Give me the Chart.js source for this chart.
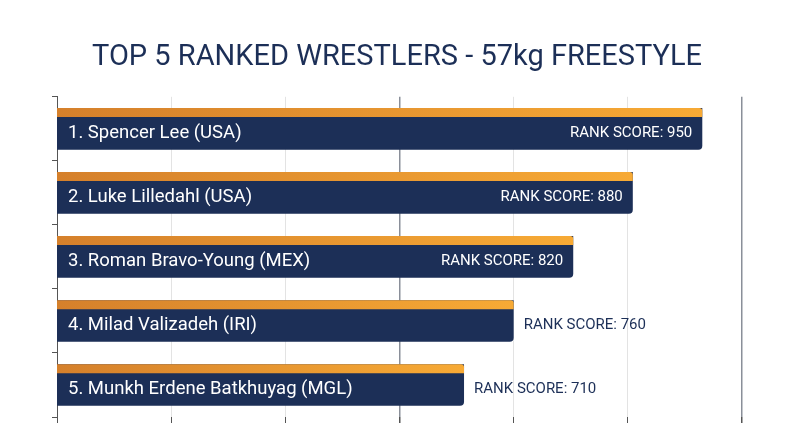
<!DOCTYPE html>
<html><head><meta charset="utf-8">
<script src="https://cdn.jsdelivr.net/npm/chart.js@4"></script>
<style>html,body{margin:0;padding:0;background:#fff}#w{width:800px;height:447px}</style>
</head><body><div id="w"><canvas id="c"></canvas></div>
<script>
const wrestlers = ["1. Spencer Lee (USA)","2. Luke Lilledahl (USA)","3. Roman Bravo-Young (MEX)","4. Milad Valizadeh (IRI)","5. Munkh Erdene Batkhuyag (MGL)"];
const rankScores = [950, 880, 820, 760, 710];
const chartTitle = "TOP 5 RANKED WRESTLERS - 57kg FREESTYLE";
const scoreLabelPrefix = "RANK SCORE: ";
const insideLabelMinScore = 800;

const NAVY = "#1c2f57";
const stripPlugin = {
  id: 'strip',
  afterDatasetsDraw(chart) {
    const ctx = chart.ctx;
    const meta = chart.getDatasetMeta(0);
    meta.data.forEach((bar, i) => {
      const p = bar.getProps(['x', 'y', 'height'], true);
      const h = p.height;
      const top = p.y - h / 2;
      const left = chart.chartArea.left, right = p.x;
      const g = ctx.createLinearGradient(left, 0, right, 0);
      g.addColorStop(0, "#d5802b"); g.addColorStop(1, "#f7aa35");
      ctx.save();
      ctx.fillStyle = g;
      ctx.beginPath();
      ctx.roundRect(left, top, right - left, 9, [0, 3, 0, 0]);
      ctx.fill();
      ctx.font = "18.5px Roboto";
      ctx.textBaseline = "middle";
      ctx.fillStyle = "#ffffff";
      const cy = top + 9 + (h - 9) / 2;
      ctx.textAlign = "left";
      ctx.fillText(wrestlers[i], left + 11, cy);
      ctx.font = "15px Roboto";
      const s = scoreLabelPrefix + rankScores[i];
      if (rankScores[i] >= insideLabelMinScore) {
        ctx.textAlign = "right";
        ctx.fillText(s, right - 10, cy);
      } else {
        ctx.textAlign = "left";
        ctx.fillStyle = NAVY;
        ctx.fillText(s, right + 10, cy);
      }
      ctx.restore();
    });
  }
};

new Chart(document.getElementById('c'), {
  type: 'bar',
  data: { labels: wrestlers, datasets: [{ data: rankScores, backgroundColor: NAVY,
    borderRadius: {topLeft:0,bottomLeft:0,topRight:0,bottomRight:4}, borderSkipped: false,
    categoryPercentage: 0.65, barPercentage: 1 }] },
  options: {
    indexAxis: 'y', responsive: true, maintainAspectRatio: false, animation: false,
    layout: { padding: { left: 52, right: 58, top: 0, bottom: 24 } },
    plugins: {
      legend: { display: false }, tooltip: { enabled: false },
      title: { display: true, text: chartTitle, color: NAVY,
        font: { family: 'Roboto', size: 29, weight: 'normal' }, padding: { top: 40, bottom: 22 } }
    },
    scales: {
      x: { min: 300, max: 990, afterBuildTicks(s){ s.ticks=[0,1,2,3,4,5,6].map(k=>({value:300+k*115})); },
        ticks: { display: false },
        border: { display: false },
        grid: { color: c => (c.index === 3 || c.index === 6) ? '#8a8f99' : '#e3e3e3',
          lineWidth: c => (c.index === 3 || c.index === 6) ? 1.5 : 1,
          drawTicks: true, tickLength: 6, tickColor: '#555' } },
      y: { ticks: { display: false }, border: { display: true, color: '#555' },
        grid: { display: true, offset: true, drawOnChartArea: false, tickLength: 5, tickColor: '#555' } }
    }
  },
  plugins: [stripPlugin]
});
</script></body></html>
